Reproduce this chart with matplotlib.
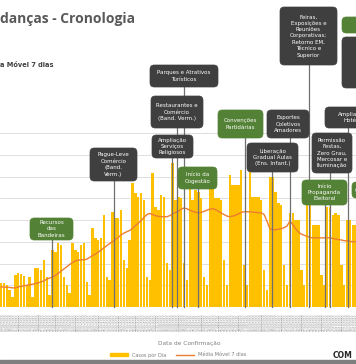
import matplotlib
matplotlib.use("Agg")
import matplotlib.pyplot as plt
import matplotlib.transforms as mtransforms
from matplotlib.patches import FancyBboxPatch, Patch, Rectangle
from matplotlib.lines import Line2D
import numpy as np
import pandas as pd

# --- data ---
start = "2020-06-06"
cases = [111, 111, 101, 78, 46, 147, 157, 152, 143, 101, 138, 46, 180, 180, 171,
         217, 138, 55, 263, 254, 295, 286, 138, 101, 65, 295, 263, 254, 286, 295,
         115, 55, 364, 318, 309, 318, 424, 138, 124, 438, 410, 410, 447, 217, 180,
         309, 572, 526, 507, 526, 493, 138, 124, 618, 461, 447, 516, 507, 203, 171,
         664, 493, 507, 502, 203, 124, 549, 493, 539, 530, 502, 138, 101, 549, 549,
         502, 502, 493, 217, 101, 608, 562, 562, 562, 631, 194, 101, 622, 507, 507,
         507, 493, 171, 78, 599, 599, 530, 479, 470, 194, 101, 433, 433, 401, 401,
         171, 101, 484, 484, 378, 378, 378, 147, 101, 461, 461, 424, 433, 424, 194,
         101, 401, 401, 378, 378]
media_movel = [92, 92, 90, 90, 88, 88, 92, 95, 97, 100, 102, 105, 108, 111, 115,
               120, 128, 133, 138, 145, 155, 165, 175, 185, 195,
               205, 212, 215, 217, 217, 220, 228, 236, 244, 252,
               262, 272, 282, 292, 300, 310, 320, 332, 340, 346,
               352, 362, 375, 385, 398, 412, 425, 430, 425, 420,
               417, 415, 415, 415, 420, 428, 435, 440, 450, 455,
               452, 445, 440, 436, 433, 435, 440, 445, 450, 452,
               448, 440, 432, 425, 418, 415, 418, 422, 428, 435,
               438, 438, 438, 436, 435, 433, 433, 425, 395, 360,
               355, 355, 358, 360, 365, 372, 395, 380, 360, 345,
               335, 330, 325, 320, 318, 318, 318, 318, 318, 318,
               318, 315, 312, 310, 308, 305, 304, 302, 300, 300]

events = ["Recursos\ndas\nBandeiras",
          "Pague-Leve\nComércio\n(Band.\nVerm.)",
          "Parques e Atrativos\nTurísticos",
          "Restaurantes e\nComércio\n(Band. Verm.)",
          "Ampliação\nServiços\nReligiosos",
          "Início da\nCogestão",
          "Convenções\nPartidárias",
          "Liberação\nGradual Aulas\n(Ens. Infant.)",
          "Esportes\nColetivos\nAmadores",
          "Feiras,\nExposições e\nReuniões\nCorporativas;\nRetorno EM,\nTécnico e\nSuperior",
          "Início\nPropaganda\nEleitoral",
          "Permissão\nFestas,\nZero Grau,\nMercosar e\nIluminação",
          "Ampliação\nHotéis",
          "Cinemas e Teatros",
          "Aulas Presenciais\nEnsino Médio\nTécnico\nAnos - Finais\n(Intercalado)",
          "Cultura e Lazer"]
event_days = [18, 39.5, 64, 61.5, 59.8, 68.9, 85.3, 94.8, 101, 107.7,
              113.3, 115, 121.3, 130, 130, 130]
event_green = [True, False, False, False, False, True, True, False, False, False,
               True, False, False, True, False, True]

# --- layout (pixels of the 356x364 canvas) ---
W, H = 356, 364
box_px = [(30, 73, 218, 240), (90, 137, 148, 181), (150, 218, 65, 87),
          (151, 203, 96, 128), (152, 193, 135, 158), (178, 217, 167, 189),
          (218, 263, 110, 138), (247, 298, 143, 172), (267, 309, 110, 138),
          (280, 337, 7, 65), (302, 347, 180, 205), (312, 352, 133, 173),
          (325, 380, 107, 128), (342, 420, 17, 33), (342, 430, 37, 88),
          (352, 400, 182, 198)]


def fx(x):
    return x / W


def fy(y):
    return 1 - y / H


fig = plt.figure(figsize=(W / 100, H / 100), dpi=100)
ax = fig.add_axes([fx(0), fy(307), 1, fy(133) - fy(307)])

x = np.arange(len(cases))
dates = pd.date_range(start, periods=len(cases), freq="D")
ax.bar(x, cases, width=0.85, color="#FFC000", zorder=2)
ax.plot(x, media_movel, color="#ED7D31", lw=1.0, zorder=3)
ax.set_xlim(-0.35, -0.35 + W / 2.86)
ax.set_ylim(0, 800)
ax.set_yticks(range(0, 801, 100))
ax.yaxis.grid(True, color="#d9d9d9", lw=0.6)
ax.set_axisbelow(True)
ax.tick_params(left=False, labelleft=False, bottom=False, pad=1)
ax.set_xticks(x)
ax.set_xticklabels([d.strftime("%d/%m/%Y") for d in dates], rotation=90,
                   fontsize=2.2, color="#8c8c8c")
for s in ax.spines.values():
    s.set_visible(False)

trans = mtransforms.blended_transform_factory(ax.transData, fig.transFigure)
for day, (x0, x1, yt, yb) in zip(event_days, box_px):
    fig.add_artist(Line2D([day, day], [fy(yb), fy(307)], transform=trans,
                          color="#707070", lw=0.9, zorder=3))

for label, green, (x0, x1, yt, yb) in zip(events, event_green, box_px):
    col = "#538135" if green else "#3f3f3f"
    fig.add_artist(FancyBboxPatch((fx(x0), fy(yb)), fx(x1) - fx(x0), fy(yt) - fy(yb),
                                  boxstyle="round,pad=0,rounding_size=0.012",
                                  transform=fig.transFigure, fc=col, ec=col,
                                  lw=0.5, zorder=4))
    fig.text(fx((x0 + x1) / 2), fy((yt + yb) / 2), label, ha="center", va="center",
             fontsize=4.0, color="white", linespacing=1.35, zorder=5)

fig.text(fx(0), fy(19), "danças - Cronologia", fontsize=10, fontweight="bold",
         color="#595959", va="center", family="Open Sans")
fig.text(fx(0), fy(65), "a Móvel 7 dias", fontsize=4.8, fontweight="bold",
         color="#404040", va="center")
fig.text(fx(189), fy(343), "Data de Confirmação", fontsize=4.2, color="#7f7f7f",
         ha="center", va="center")

handles = [Patch(color="#FFC000"), Line2D([], [], color="#ED7D31", lw=1.0)]
fig.legend(handles, ["Casos por Dia", "Média Móvel 7 dias"], loc="center",
           bbox_to_anchor=(fx(178), fy(355)), ncol=2, frameon=False, fontsize=3.6,
           labelcolor="#7f7f7f", handlelength=3.5, handleheight=0.5, columnspacing=2)

fig.text(fx(333), fy(355), "COM", fontsize=5.5, fontweight="bold", color="#262626",
         va="center")
fig.add_artist(Rectangle((0, 0), 1, fy(360), transform=fig.transFigure,
                         color="#7f7f7f", zorder=6))

fig.savefig("out.png", dpi=100)
